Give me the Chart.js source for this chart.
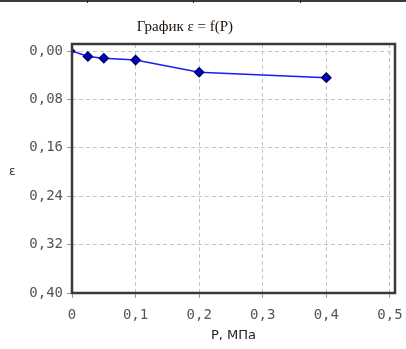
<!DOCTYPE html>
<html>
<head>
<meta charset="utf-8">
<script src="https://cdn.jsdelivr.net/npm/chart.js@4/dist/chart.umd.min.js"></script>
<style>
  body { margin:0; background:#fff; }
  #wrap { position:relative; width:406px; height:349px; }
  #topline { position:absolute; left:0; top:0; width:406px; height:2px; background:#3a3a3a; }
  .sep { position:absolute; top:0; width:1px; height:3px; background:#222; }
  #title { position:absolute; left:0; width:370px; top:18px; text-align:center;
           font:15px "Liberation Serif", serif; color:#1e120a; }
  #ytitle { position:absolute; left:9px; top:164px; font:12px "DejaVu Sans", sans-serif; color:#333; }
  canvas { position:absolute; left:0; top:0; }
</style>
</head>
<body>
<div id="wrap">
  <canvas id="mycanvas" width="406" height="349"></canvas>
  <div id="topline"></div>
  <div class="sep" style="left:87px"></div>
  <div class="sep" style="left:193px"></div>
  <div class="sep" style="left:300px"></div>
  <div id="title">График ε = f(P)</div>
  <div id="ytitle">ε</div>
</div>
<script>
// нагрузка P, МПа и относительная деформация e
var P = [0, 0.025, 0.05, 0.1, 0.2, 0.4];
var E = [0, 0.009, 0.012, 0.015, 0.035, 0.044];

var xTicks = [0, 0.1, 0.2, 0.3, 0.4, 0.5];
var yTicks = [0, 0.08, 0.16, 0.24, 0.32, 0.40];

var pts = [];
for (var j in P) {
  pts.push({x: P[j], y: E[j]});
}

// рамка вокруг области графика
var frame = {
  id: 'frame',
  afterDraw: function(chart) {
    var a = chart.chartArea, c = chart.ctx;
    c.save();
    c.strokeStyle = '#3a3a3a';
    c.lineWidth = 2.5;
    c.strokeRect(a.left, a.top, a.right - a.left, a.bottom - a.top);
    c.restore();
  }
};

var tickFont = {family: 'DejaVu Sans Mono', size: 14};

var ctx = document.getElementById('mycanvas');
var linegraph = new Chart(ctx, {
  type: 'line',
  data: {
    datasets: [{
      data: pts,
      borderColor: '#1a1aff',
      borderWidth: 1.5,
      backgroundColor: '#0000d0',
      pointBorderColor: '#000060',
      pointStyle: 'rectRot',
      pointRadius: function(c) { return c.dataIndex === 0 ? 2.5 : 4.5; },
      tension: 0,
      fill: false
    }]
  },
  options: {
    responsive: false,
    animation: false,
    layout: {padding: {top: 44, right: 11, bottom: 0, left: 0}},
    plugins: {legend: {display: false}, tooltip: {enabled: false}},
    scales: {
      x: {
        type: 'linear',
        min: 0, max: 0.508,
        afterBuildTicks: function(s) { s.ticks = xTicks.map(function(v){ return {value: v}; }); },
        afterFit: function(s) { s.height = 56; s.paddingLeft = 0; s.paddingRight = 0; },
        grid: {color: '#c4c4c4', tickColor: '#9a9a9a', tickLength: 5},
        border: {display: false, dash: [4, 3]},
        ticks: {
          color: '#555', font: tickFont, padding: 9, maxRotation: 0,
          callback: function(v) { return v === 0 ? '0' : v.toFixed(1).replace('.', ','); }
        },
        title: {display: true, text: 'P, МПа', color: '#222', font: {family: 'DejaVu Sans', size: 13}, padding: {top: 0, bottom: 6}}
      },
      y: {
        type: 'linear',
        reverse: true,
        min: -0.0116, max: 0.40,
        afterBuildTicks: function(s) { s.ticks = yTicks.map(function(v){ return {value: v}; }); },
        afterFit: function(s) { s.width = 72; s.paddingTop = 0; s.paddingBottom = 0; },
        grid: {color: '#c4c4c4', tickColor: '#9a9a9a', tickLength: 5},
        border: {display: false, dash: [4, 3]},
        ticks: {
          color: '#555', font: tickFont, padding: 4,
          callback: function(v) { return v.toFixed(2).replace('.', ','); }
        }
      }
    }
  },
  plugins: [frame]
});
</script>
</body>
</html>
